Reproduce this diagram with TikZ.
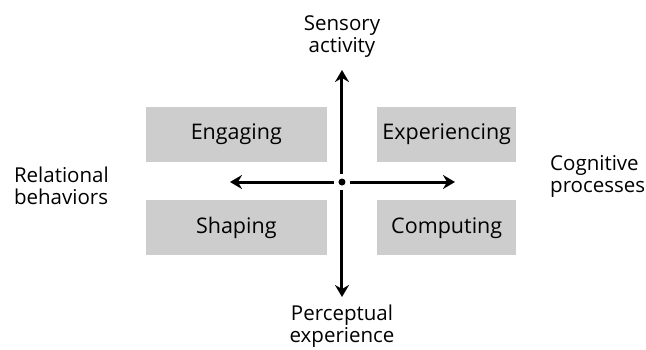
\documentclass[tikz,border=0pt]{standalone}
\usepackage{fontspec}
\setmainfont{Open Sans}
\usetikzlibrary{positioning,arrows.meta}
\definecolor{boxgray}{RGB}{205,205,205}

\begin{document}
\begin{tikzpicture}[x=1pt,y=1pt,
		quad/.style={fill=boxgray, minimum height=55pt, inner sep=0pt, font=\fontsize{21.5}{22}\selectfont},
		axis/.style={line width=3pt, -{Stealth[length=12pt,width=14pt,inset=4pt]}},
		pole/.style={align=center, inner sep=0pt, font=\fontsize{20.5}{22}\selectfont}]
			\useasboundingbox (-342,-167) rectangle (304,182);
			% Origin dot
			\node (ctr) [circle, fill=black, minimum size=7pt, inner sep=0pt, outer sep=4.5pt] at (0,0) {};
			% Quadrant boxes
			\node (engaging) [quad, minimum width=181pt, above left=20pt and 15pt of ctr.center] {Engaging};
			\node (shaping) [quad, minimum width=181pt, below left=18pt and 15pt of ctr.center] {Shaping};
			\node (experiencing) [quad, minimum width=139pt, above right=20pt and 35pt of ctr.center] {Experiencing};
			\node (computing) [quad, minimum width=139pt, below right=18pt and 35pt of ctr.center] {Computing};
			% Axis ends
			\coordinate [above=112pt of ctr.center] (up);
			\coordinate [below=115pt of ctr.center] (dn);
			\coordinate [left=112pt of ctr.center] (lf);
			\coordinate [right=113pt of ctr.center] (rt);
			% Axes
			\draw[axis] (ctr) -- (up);
			\draw[axis] (ctr) -- (dn);
			\draw[axis] (ctr) -- (lf);
			\draw[axis] (ctr) -- (rt);
			% Labels
			\node (sensory) [pole, above=12pt of up] {Sensory\\activity};
			\node (perceptual) [pole, below=8pt of dn] {Perceptual\\experience};
			\node (relational) [pole, align=left, left=121pt of lf, yshift=-4pt] {Relational\\behaviors};
			\node (cognitive) [pole, align=left, right=95pt of rt, yshift=6pt] {Cognitive\\processes};
		\end{tikzpicture}
\end{document}
